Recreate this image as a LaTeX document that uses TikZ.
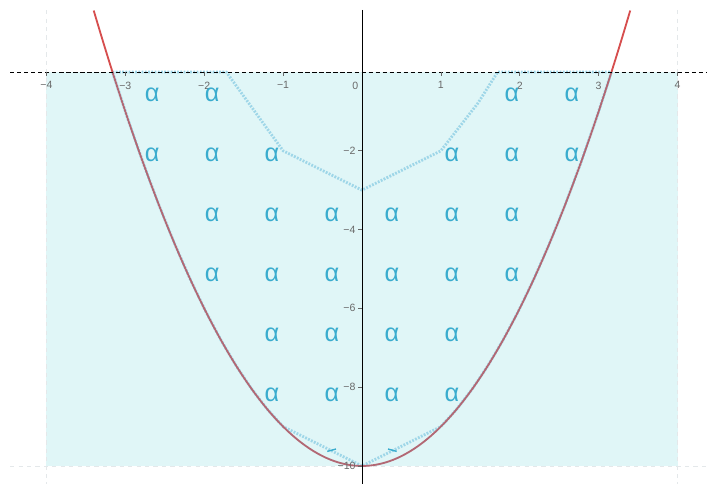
\documentclass[tikz,border=0pt]{standalone}
\usepackage{fontspec}
\setmainfont{Liberation Sans}
\usetikzlibrary{positioning}
\definecolor{fillcyan}{RGB}{224,246,247}
\definecolor{curvered}{RGB}{214,78,78}
\definecolor{curvemauve}{RGB}{178,104,116}
\definecolor{dotblue}{RGB}{158,214,232}
\definecolor{alphablue}{RGB}{58,172,206}
\definecolor{tickgray}{RGB}{105,105,105}
\definecolor{gridgray}{RGB}{228,232,234}

\begin{document}
\begin{tikzpicture}[
    x=1.9725cm, y=0.985cm,
    ticklbl/.style={font=\fontsize{7.5}{9}\selectfont, text=tickgray, inner sep=1pt},
    alphalbl/.style={font=\fontsize{18}{20}\selectfont, text=alphablue, inner sep=0pt},
    gridln/.style={gridgray, dashed, line width=0.6pt},
    dotln/.style={dotblue, line width=2pt, dash pattern=on 1.3pt off 1pt, line join=round},
]
    \useasboundingbox (-4.588,-10.457) rectangle (4.373,1.827);

    % Shaded region
    \fill[fillcyan] (-4,-10) rectangle (4,0);

    % Faint grid
    \draw[gridln] (-4,1.57) -- (-4,-10.457);
    \draw[gridln] (4,1.57) -- (4,-10.457);
    \draw[gridln] (-4.46,-10) -- (4.373,-10);

    % Dotted outline
    \draw[dotln] (-3.162,0) -- (-1.72,0) -- (-1,-2) -- (0,-3) -- (1,-2) -- (1.47,-0.79)
        -- (1.72,0) -- (3.162,0)
        -- plot[domain=3.162:1, samples=12] (\x,{\x*\x-10})
        -- (0,-10) -- (-1,-9)
        -- plot[domain=-1:-3.162, samples=12] (\x,{\x*\x-10}) -- cycle;
    \draw[alphablue, line width=1pt] (-0.44,-9.63) -- (-0.33,-9.57);
    \draw[alphablue, line width=1pt] (0.33,-9.57) -- (0.44,-9.63);

    % Parabola y = x^2 - 10
    \draw[curvered, line width=1.3pt] plot[domain=-3.40:-3.162, samples=10] (\x,{\x*\x-10});
    \draw[curvered, line width=1.3pt] plot[domain=3.162:3.40, samples=10] (\x,{\x*\x-10});
    \draw[curvemauve, line width=1.3pt] plot[domain=-3.162:3.162, samples=120] (\x,{\x*\x-10});

    % Axes
    \draw[black, line width=0.6pt, dash pattern=on 3pt off 2pt] (-4.46,0) -- (4.373,0);
    \draw[black, line width=0.6pt] (0,1.574) -- (0,-10.457);

    % Tick labels
    \foreach \i in {-4,-3,-2,-1,1,2,3,4} {
        \coordinate (xt\i) at (\i,0);
        \draw[tickgray, line width=0.4pt] (xt\i) -- ++(0,-0.1);
    }
    \foreach \i/\t in {-4/−4,-3/−3,-2/−2,-1/−1,1/1,2/2,3/3,4/4}
        \node[ticklbl, below=0.2cm of xt\i] (xl\i) {\t};
    \coordinate (org) at (0,0);
    \node[ticklbl, below left=0.2cm and 0.05cm of org] (xl0) {0};
    \foreach \i in {2,4,6,8,10} {
        \coordinate (yt\i) at (0,-\i);
        \draw[tickgray, line width=0.4pt] (yt\i) -- ++(-0.05,0);
        \node[ticklbl, left=0.12cm of yt\i] (yl\i) {−\i};
    }

    % Alpha labels
    \foreach \r/\cl in {1/{1,2,7,8}, 2/{1,2,3,6,7,8}, 3/{2,3,4,5,6,7},
                        4/{2,3,4,5,6,7}, 5/{3,4,5,6}, 6/{3,4,5,6}}
        \foreach \c in \cl
            \node[alphalbl] (a\r\c) at ({-2.66+0.76*(\c-1)},{-0.58-1.524*(\r-1)}) {α};
\end{tikzpicture}
\end{document}
